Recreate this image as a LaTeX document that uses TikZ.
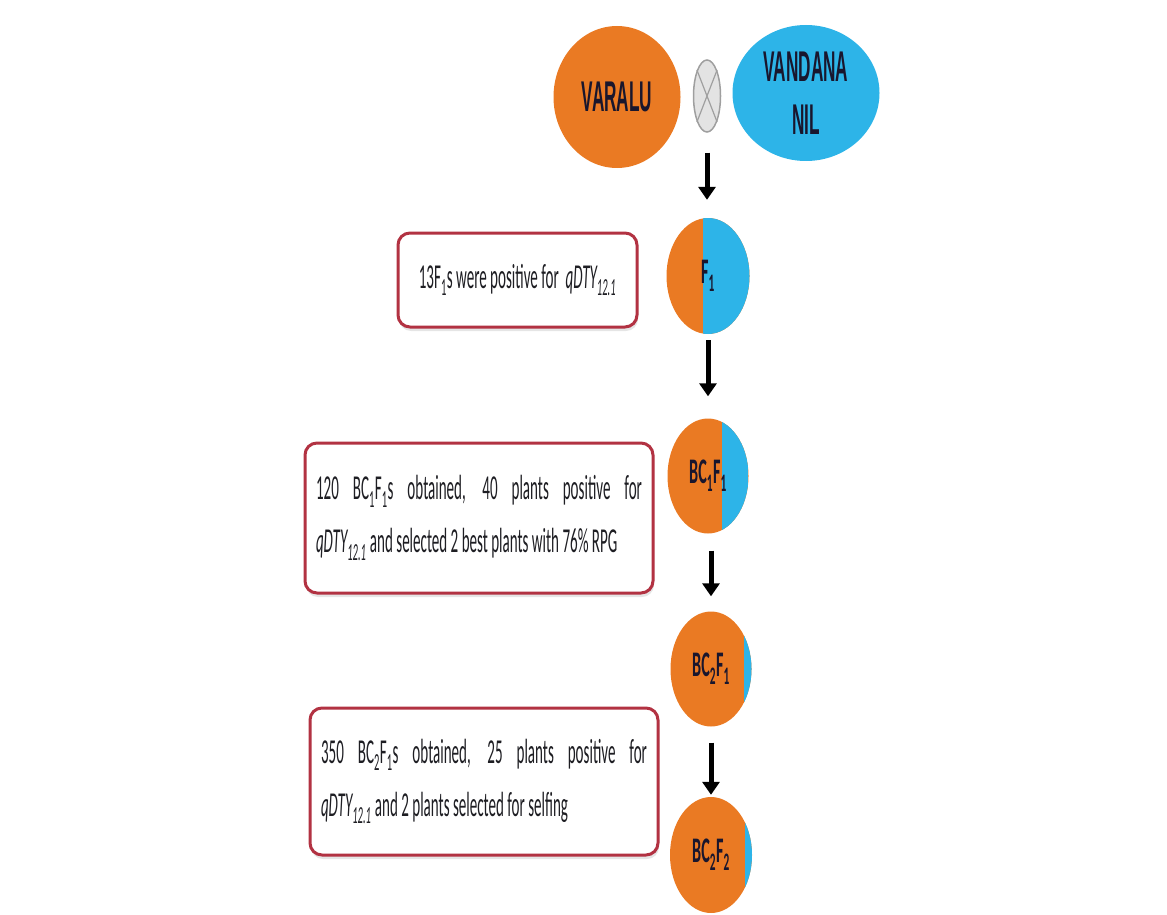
\documentclass[tikz,border=0pt]{standalone}
\usepackage{fontspec}
\usepackage{tikz}
\usetikzlibrary{shapes.geometric,arrows.meta,shadows}
\newfontfamily\calfont[FakeStretch=0.45]{Carlito}
\newfontfamily\notefont[FakeStretch=0.43]{Carlito}
\newfontfamily\parentfont[FakeStretch=0.40]{Liberation Sans}
\definecolor{seedorange}{RGB}{234,122,35}
\definecolor{seedblue}{RGB}{45,180,232}
\definecolor{boxred}{RGB}{178,50,66}
\definecolor{inkdark}{RGB}{25,22,45}
\definecolor{inktext}{RGB}{30,30,35}
\tikzset{
  parent/.style={ellipse, inner sep=0pt, text=inkdark, align=center,
    font=\parentfont\bfseries\fontsize{43}{53}\selectfont},
  plant/.style={ellipse, minimum width=81pt, minimum height=115pt, inner sep=0pt,
    fill=seedorange, text=inkdark, font=\calfont\bfseries\fontsize{36}{36}\selectfont},
  donor/.style={path picture={\fill[seedblue] ([xshift=#1]path picture bounding box.north)
    rectangle (path picture bounding box.south east);}},
  notebox/.style={draw=boxred, line width=3pt, rounded corners=12pt, fill=white,
    inner sep=0pt, text=inktext, font=\notefont\fontsize{35}{53}\selectfont,
    drop shadow={fill=black!20, shadow xshift=1pt, shadow yshift=-4pt}},
  arr/.style={line width=5pt, -{Triangle[length=13pt,width=17pt]}}
}
\begin{document}
\begin{tikzpicture}[x=1pt,y=-1pt]
    \useasboundingbox (0,0) rectangle (1167,915);
    \node (varalu) at (617,97) [parent, fill=seedorange, minimum width=127pt, minimum height=142pt] {VARALU};
    \node (cross) at (707,96) [ellipse, minimum width=27pt, minimum height=72pt, fill=gray!22, draw=gray!75, line width=1.5pt] {};
    \draw [gray!75, line width=1.2pt] (cross.north west) -- (cross.south east);
    \draw [gray!75, line width=1.2pt] (cross.north east) -- (cross.south west);
    \node (vandana) at (806,93) [parent, fill=seedblue, minimum width=147pt, minimum height=136pt] {VANDANA\\NIL};
    \node (f1) at (708,276) [plant, minimum width=83pt, minimum height=116pt, donor=-5pt] {F\textsubscript{1}};
    \node (bc1) at (708,476) [plant, donor=14pt] {BC\textsubscript{1}F\textsubscript{1}};
    \node (bc2a) at (711,669) [plant, donor=33pt] {BC\textsubscript{2}F\textsubscript{1}};
    \node (bc2b) at (711,855) [plant, minimum width=82pt, minimum height=116pt, donor=34pt] {BC\textsubscript{2}F\textsubscript{2}};
    \node (note1) at (517.5,280) [notebox, minimum width=239pt, minimum height=94pt] {13F\textsubscript{1}s were positive for\ \ \textit{qDTY\textsubscript{12.1}}};
    \node (note2) at (479,518) [notebox, minimum width=348pt, minimum height=150pt, text width=326pt, align=justify] {120 BC\textsubscript{1}F\textsubscript{1}s obtained, 40 plants positive for\linebreak \textit{qDTY\textsubscript{12.1}} and selected 2 best plants with 76\% RPG};
    \node (note3) at (484,781.5) [notebox, minimum width=348pt, minimum height=147pt, text width=326pt, align=justify] {350 BC\textsubscript{2}F\textsubscript{1}s obtained, 25 plants positive for\linebreak \textit{qDTY\textsubscript{12.1}} and 2 plants selected for selfing};
    \draw [arr, shorten <=20pt, shorten >=18pt] (cross.south) -- (cross.south |- f1.north);
    \draw [arr, shorten <=6pt, shorten >=22pt] (f1.south) -- (f1.south |- bc1.north);
    \draw [arr, shorten <=17pt, shorten >=15pt] (bc1.south -| bc2a.south) -- (bc2a.north);
    \draw [arr, shorten <=16pt, shorten >=2pt] (bc2a.south) -- (bc2b.north);
\end{tikzpicture}
\end{document}
